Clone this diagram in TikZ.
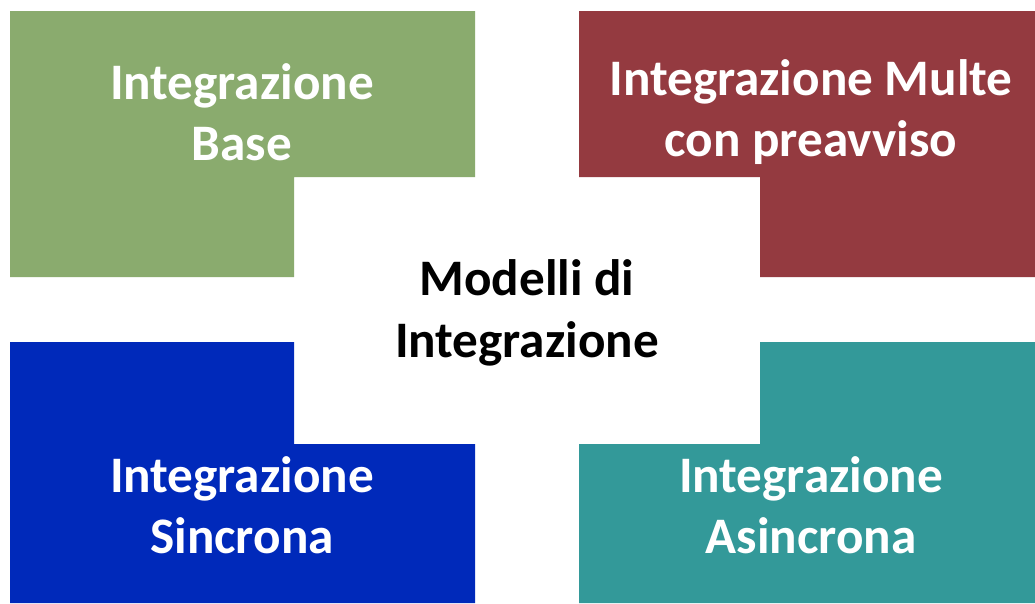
\documentclass[tikz,border=0pt]{standalone}
\usepackage{fontspec}
\setmainfont{Carlito}
\definecolor{cgreen}{RGB}{138,171,110}
\definecolor{cred}{RGB}{148,58,64}
\definecolor{cblue}{RGB}{0,41,186}
\definecolor{cteal}{RGB}{51,153,153}
\begin{document}
\begin{tikzpicture}[x=1pt,y=-1pt,
  lbl/.style={font=\bfseries\fontsize{51.2}{61.5}\selectfont, align=center, text=white, inner sep=0pt},
  clbl/.style={lbl, text=black}]
\useasboundingbox (0,0) rectangle (1035,603);
\fill[white] (0,0) rectangle (1035,603);
\fill[cgreen] (10,11) -- (475,11) -- (475,177) -- (294,177) -- (294,277) -- (10,277) -- cycle;
\fill[cred] (579,11) -- (1035,11) -- (1035,277) -- (760,277) -- (760,177) -- (579,177) -- cycle;
\fill[cblue] (10,342) -- (294,342) -- (294,444) -- (475,444) -- (475,603) -- (10,603) -- cycle;
\fill[cteal] (579,444) -- (760,444) -- (760,342) -- (1035,342) -- (1035,603) -- (579,603) -- cycle;
\node[lbl] (base) at (242,112) {Integrazione\\Base};
\node[lbl] (multe) at (811,112) {Integrazione Multe\\con preavviso};
\node[lbl] (sinc) at (242,505) {Integrazione\\Sincrona};
\node[lbl] (asinc) at (811,505) {Integrazione\\Asincrona};
\node[clbl] (center) at (527,313) {Modelli di\\Integrazione};
\end{tikzpicture}
\end{document}
